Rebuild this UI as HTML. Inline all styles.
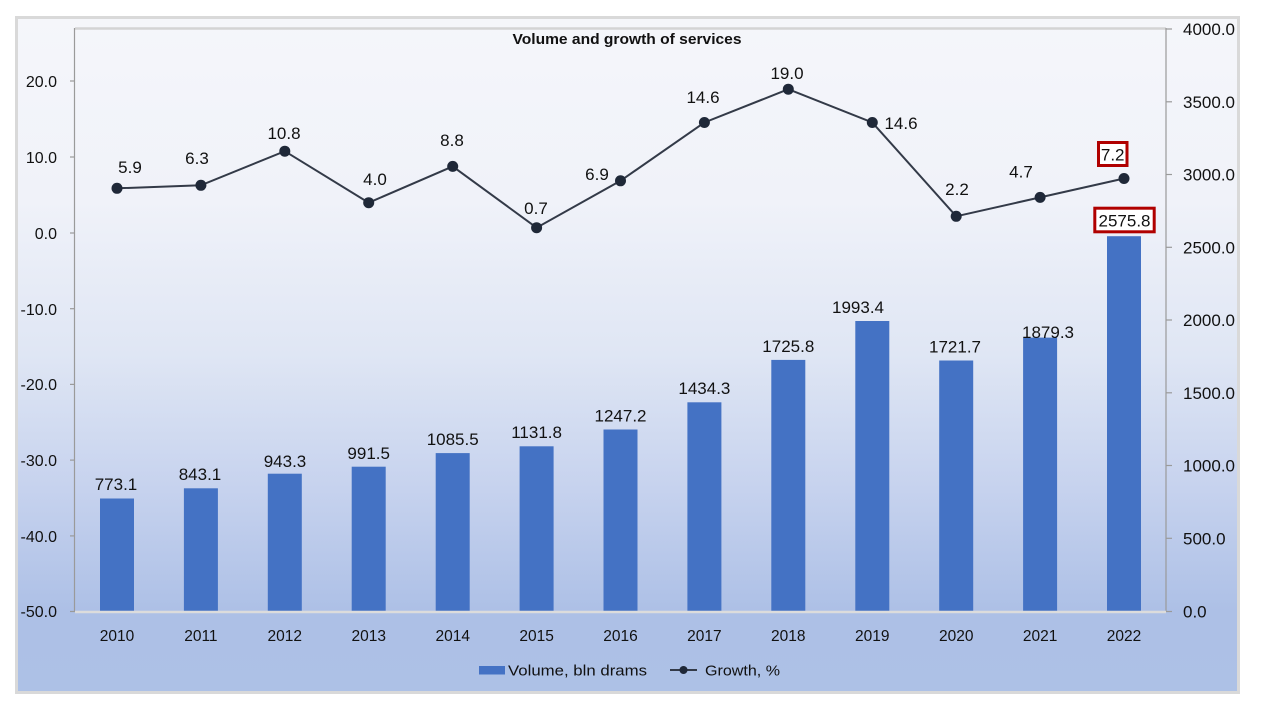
<!DOCTYPE html>
<html><head><meta charset="utf-8"><style>
html,body{margin:0;padding:0;background:#fff;width:1280px;height:720px;overflow:hidden}
svg{display:block}
text{font-family:"Liberation Sans",Arial,sans-serif;fill:#111}
</style></head><body>
<svg width="1280" height="720" viewBox="0 0 1280 720" xmlns="http://www.w3.org/2000/svg">
<defs>
<linearGradient id="bg" x1="0" y1="0" x2="0" y2="1">
<stop offset="0" stop-color="#f5f6fa"/>
<stop offset="0.27" stop-color="#f0f2f9"/>
<stop offset="0.5" stop-color="#dfe6f4"/>
<stop offset="0.7" stop-color="#c6d2ee"/>
<stop offset="0.88" stop-color="#adc0e6"/>
<stop offset="1" stop-color="#adc1e6"/>
</linearGradient>
</defs>
<rect x="0" y="0" width="1280" height="720" fill="#fff"/>
<rect x="16.5" y="17.5" width="1222" height="675" fill="url(#bg)" stroke="#d9d9d9" stroke-width="3"/>

<!-- plot borders -->
<line x1="75" y1="28.5" x2="1166" y2="28.5" stroke="#d4d4d4" stroke-width="2.5"/>
<line x1="74.5" y1="28" x2="74.5" y2="612" stroke="#9a9a9a" stroke-width="1.2"/>
<line x1="1166" y1="28" x2="1166" y2="612" stroke="#9a9a9a" stroke-width="1.2"/>

<!-- ticks -->
<g stroke="#9a9a9a" stroke-width="1.2">
<line x1="70" y1="81" x2="75" y2="81"/>
<line x1="70" y1="157" x2="75" y2="157"/>
<line x1="70" y1="233" x2="75" y2="233"/>
<line x1="70" y1="308.7" x2="75" y2="308.7"/>
<line x1="70" y1="384.4" x2="75" y2="384.4"/>
<line x1="70" y1="460.1" x2="75" y2="460.1"/>
<line x1="70" y1="535.9" x2="75" y2="535.9"/>
<line x1="70" y1="611.5" x2="75" y2="611.5"/>
<line x1="1166" y1="29" x2="1172" y2="29"/>
<line x1="1166" y1="101.8" x2="1172" y2="101.8"/>
<line x1="1166" y1="174.5" x2="1172" y2="174.5"/>
<line x1="1166" y1="247.3" x2="1172" y2="247.3"/>
<line x1="1166" y1="320" x2="1172" y2="320"/>
<line x1="1166" y1="392.8" x2="1172" y2="392.8"/>
<line x1="1166" y1="465.5" x2="1172" y2="465.5"/>
<line x1="1166" y1="538.3" x2="1172" y2="538.3"/>
<line x1="1166" y1="611.5" x2="1172" y2="611.5"/>
</g>

<!-- left axis labels -->
<g font-size="16" text-anchor="end">
<text x="57" y="87">20.0</text>
<text x="57" y="163">10.0</text>
<text x="57" y="239">0.0</text>
<text x="57" y="315">-10.0</text>
<text x="57" y="390">-20.0</text>
<text x="57" y="466">-30.0</text>
<text x="57" y="542">-40.0</text>
<text x="57" y="617">-50.0</text>
</g>
<!-- right axis labels -->
<g font-size="17" text-anchor="start">
<text x="1183" y="35">4000.0</text>
<text x="1183" y="108">3500.0</text>
<text x="1183" y="180.5">3000.0</text>
<text x="1183" y="253.5">2500.0</text>
<text x="1183" y="326">2000.0</text>
<text x="1183" y="399">1500.0</text>
<text x="1183" y="471.5">1000.0</text>
<text x="1183" y="544.5">500.0</text>
<text x="1183" y="617.5">0.0</text>
</g>

<!-- title -->
<text x="627" y="44" font-size="15" font-weight="bold" text-anchor="middle" textLength="229" lengthAdjust="spacingAndGlyphs">Volume and growth of services</text>

<!-- bars -->
<g fill="#4472c4">
<rect x="100" y="498.5" width="34" height="112.5"/>
<rect x="183.9" y="488.3" width="34" height="122.7"/>
<rect x="267.8" y="473.7" width="34" height="137.3"/>
<rect x="351.7" y="466.7" width="34" height="144.3"/>
<rect x="435.7" y="453.1" width="34" height="157.9"/>
<rect x="519.6" y="446.3" width="34" height="164.7"/>
<rect x="603.5" y="429.5" width="34" height="181.5"/>
<rect x="687.4" y="402.3" width="34" height="208.7"/>
<rect x="771.3" y="359.9" width="34" height="251.1"/>
<rect x="855.3" y="321" width="34" height="290"/>
<rect x="939.2" y="360.5" width="34" height="250.5"/>
<rect x="1023.1" y="337.6" width="34" height="273.4"/>
<rect x="1107" y="236.2" width="34" height="374.8"/>
</g>

<line x1="75" y1="612" x2="1166" y2="612" stroke="#dcdcdc" stroke-width="2.5"/>

<!-- years -->
<g font-size="15.5" text-anchor="middle">
<text x="117" y="641">2010</text>
<text x="200.9" y="641">2011</text>
<text x="284.8" y="641">2012</text>
<text x="368.7" y="641">2013</text>
<text x="452.7" y="641">2014</text>
<text x="536.6" y="641">2015</text>
<text x="620.5" y="641">2016</text>
<text x="704.4" y="641">2017</text>
<text x="788.3" y="641">2018</text>
<text x="872.3" y="641">2019</text>
<text x="956.2" y="641">2020</text>
<text x="1040.1" y="641">2021</text>
<text x="1124" y="641">2022</text>
</g>

<!-- bar labels -->
<g font-size="17" text-anchor="middle">
<text x="116" y="490">773.1</text>
<text x="200" y="480">843.1</text>
<text x="285" y="467">943.3</text>
<text x="368.7" y="459">991.5</text>
<text x="452.7" y="445">1085.5</text>
<text x="536.6" y="438">1131.8</text>
<text x="620.5" y="421.5">1247.2</text>
<text x="704.4" y="394">1434.3</text>
<text x="788.3" y="352">1725.8</text>
<text x="858" y="313">1993.4</text>
<text x="955" y="352.5">1721.7</text>
<text x="1048" y="338">1879.3</text>
</g>

<!-- growth line -->
<polyline fill="none" stroke="#333a48" stroke-width="2" points="117,188.3 200.9,185.3 284.8,151.2 368.7,202.7 452.7,166.4 536.6,227.7 620.5,180.8 704.4,122.5 788.3,89.2 872.3,122.5 956.2,216.3 1040.1,197.4 1124,178.5"/>
<g fill="#1f2838">
<circle cx="117" cy="188.3" r="5.5"/>
<circle cx="200.9" cy="185.3" r="5.5"/>
<circle cx="284.8" cy="151.2" r="5.5"/>
<circle cx="368.7" cy="202.7" r="5.5"/>
<circle cx="452.7" cy="166.4" r="5.5"/>
<circle cx="536.6" cy="227.7" r="5.5"/>
<circle cx="620.5" cy="180.8" r="5.5"/>
<circle cx="704.4" cy="122.5" r="5.5"/>
<circle cx="788.3" cy="89.2" r="5.5"/>
<circle cx="872.3" cy="122.5" r="5.5"/>
<circle cx="956.2" cy="216.3" r="5.5"/>
<circle cx="1040.1" cy="197.4" r="5.5"/>
<circle cx="1124" cy="178.5" r="5.5"/>
</g>

<!-- growth labels -->
<g font-size="17" text-anchor="middle">
<text x="130" y="173">5.9</text>
<text x="197" y="164">6.3</text>
<text x="284" y="139">10.8</text>
<text x="375" y="185">4.0</text>
<text x="452" y="146">8.8</text>
<text x="536" y="214">0.7</text>
<text x="597" y="180">6.9</text>
<text x="703" y="103">14.6</text>
<text x="787" y="79">19.0</text>
<text x="901" y="129">14.6</text>
<text x="957" y="195">2.2</text>
<text x="1021" y="177.5">4.7</text>
</g>

<!-- highlighted labels -->
<rect x="1098.5" y="142.5" width="28.5" height="23" fill="#fff" stroke="#b00000" stroke-width="3"/>
<text x="1112.7" y="160.5" font-size="17" text-anchor="middle">7.2</text>
<rect x="1094.8" y="208.2" width="59.4" height="23.6" fill="#fff" stroke="#b00000" stroke-width="3"/>
<text x="1124.5" y="226.5" font-size="17" text-anchor="middle">2575.8</text>

<!-- legend -->
<rect x="479" y="666" width="26" height="8.5" fill="#4472c4"/>
<text x="508" y="675.5" font-size="15" textLength="139" lengthAdjust="spacingAndGlyphs">Volume, bln drams</text>
<line x1="670" y1="670" x2="697" y2="670" stroke="#333a48" stroke-width="2"/>
<circle cx="683.5" cy="670" r="4" fill="#1f2838"/>
<text x="705" y="675.5" font-size="15" textLength="75" lengthAdjust="spacingAndGlyphs">Growth, %</text>
</svg>
</body></html>
